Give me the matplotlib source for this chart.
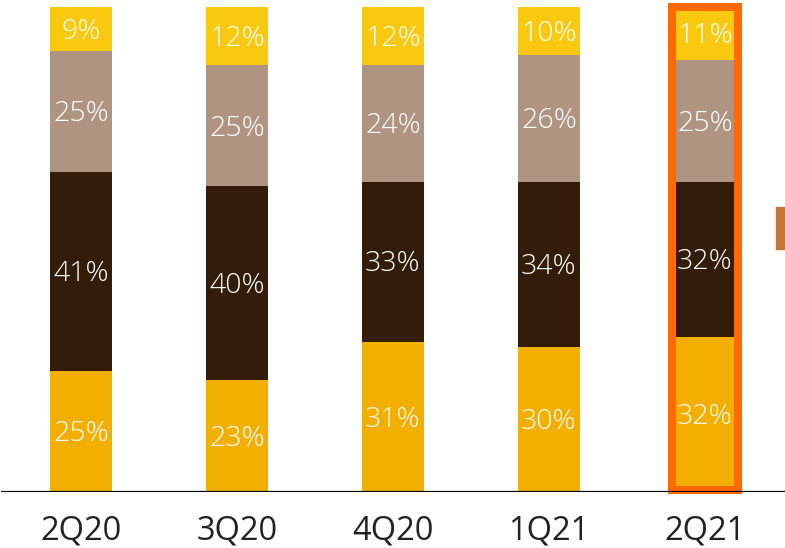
import matplotlib.pyplot as plt
from matplotlib.patches import Rectangle
from matplotlib.transforms import offset_copy
import numpy as np

plt.rcParams['font.family'] = ['Open Sans', 'DejaVu Sans']

# quarters and mix shares (%), bottom to top
quarters = ['2Q20', '3Q20', '4Q20', '1Q21', '2Q21']
seg_a = [25, 23, 31, 30, 32]   # gold, bottom
seg_b = [41, 40, 33, 34, 32]   # dark brown
seg_c = [25, 25, 24, 26, 25]   # taupe
seg_d = [9, 12, 12, 10, 11]    # yellow, top

colors = ['#F3AF00', '#331D0A', '#AF9581', '#F8C90F']
highlight = 4

fig = plt.figure(figsize=(7.85, 5.48), dpi=100)
ax = fig.add_axes([0, 56 / 548, 1, 485 / 548])
txt_tr = offset_copy(ax.transData, fig=fig, y=-2, units='points')

x = np.arange(len(quarters))
bottom = np.zeros(len(quarters))
for vals, col in zip([seg_a, seg_b, seg_c, seg_d], colors):
    vals = np.array(vals, dtype=float)
    ax.bar(x, vals, width=0.4, bottom=bottom, color=col, edgecolor='none')
    for xi, b, v in zip(x, bottom, vals):
        ax.text(xi, b + v / 2, f'{int(v)}%', ha='center', va='center',
                color='white', fontsize=20.5, fontweight='light',
                transform=txt_tr)
    bottom += vals

# highlight box round the latest quarter
ax.add_patch(Rectangle((highlight - 0.21, 0.5), 0.42, 99.5, fill=False,
                       edgecolor='#FF6A00', lw=5.8, zorder=5, clip_on=False))

ax.axhline(0, xmin=2 / 785, xmax=1, color='black', lw=1.6, zorder=6)

ax.set_xlim(-81 / 156, 704 / 156)
ax.set_ylim(0, 100)
ax.set_xticks(x)
ax.set_xticklabels(quarters, fontsize=23.5, color='#222222')
ax.tick_params(axis='x', length=0, pad=16)
ax.set_yticks([])
for s in ax.spines.values():
    s.set_visible(False)

# small marker at the right edge
fig.patches.append(Rectangle((776 / 785, 1 - 249 / 548), 9 / 785, 42 / 548,
                             transform=fig.transFigure, color='#C67538'))

fig.savefig('out.png', dpi=100)
